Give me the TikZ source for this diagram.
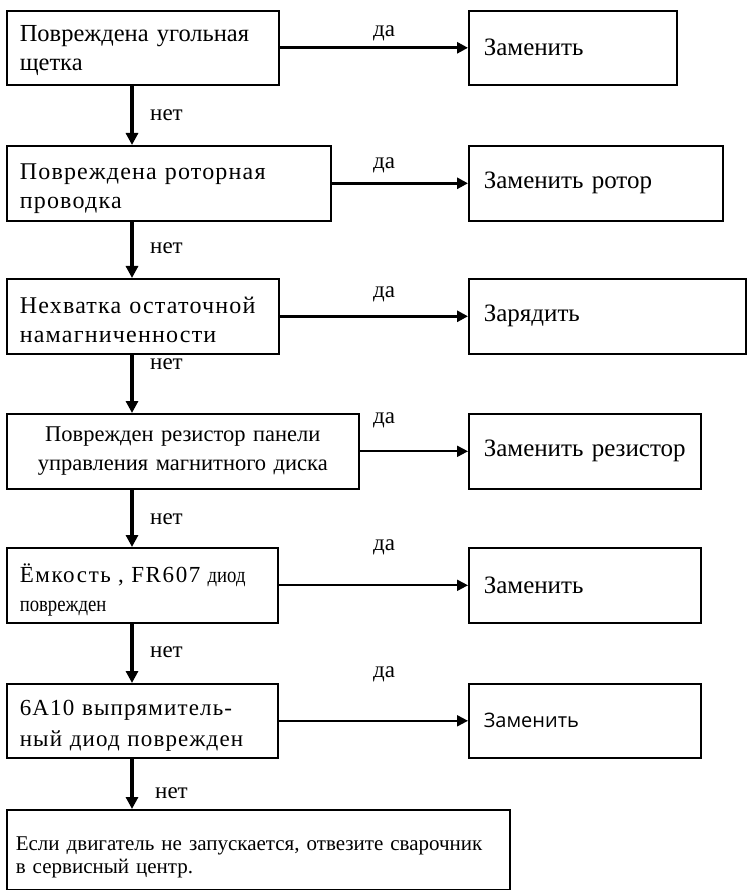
\documentclass[tikz,border=0pt]{standalone}
\usepackage{fontspec}
\setmainfont{Liberation Serif}
\newfontfamily\spaced[LetterSpace=5]{Liberation Serif}
\newfontfamily\wide[LetterSpace=7]{Liberation Serif}
\newfontfamily\narrow[FakeStretch=0.85]{Liberation Serif}
\newfontfamily\opensans{Open Sans}
\newcommand\lift[1]{\rule{0pt}{#1pt}}
\usetikzlibrary{arrows.meta}

\begin{document}
\begin{tikzpicture}[x=1pt,y=-1pt,
  box/.style={draw, line width=1.6pt, anchor=north west, inner xsep=13pt,
    inner ysep=0pt, align=left, font=\fontsize{24}{29}\selectfont},
  fix/.style={box, inner xsep=15pt, font=\fontsize{25}{29}\selectfont},
  lbl/.style={font=\fontsize{23}{26}\selectfont, inner sep=0pt},
  yes/.style={line width=3pt, -{Triangle[length=11pt,width=11pt]}},
  yesthin/.style={line width=2pt, -{Triangle[length=11pt,width=11pt]}},
  no/.style={line width=3.5pt, -{Triangle[length=12pt,width=12pt]}}]
  \useasboundingbox (0,0) rectangle (746,890);

  % questions
  \node[box, minimum width=272, minimum height=74, text width=246,
    font=\fontsize{24.5}{29}\selectfont] (q1) at (6,10)
    {\lift{22}Повреждена угольная\\щетка};
  \node[box, minimum width=324, minimum height=75, text width=298] (q2) at (6,145)
    {\spaced\lift{26}Повреждена роторная\\проводка};
  \node[box, minimum width=272, minimum height=75, text width=246] (q3) at (6,278)
    {\spaced\lift{24}Нехватка остаточной\\намагниченности};
  \node[box, minimum width=352, minimum height=75, text width=326, align=center,
    font=\fontsize{22.5}{29}\selectfont] (q4) at (6,413)
    {Поврежден резистор панели\\управления магнитного диска};
  \node[box, minimum width=271, minimum height=75, text width=245,
    font=\fontsize{22}{29}\selectfont] (q5) at (6,547)
    {\lift{29}{\wide\fontsize{23}{29}\selectfont Ёмкость , FR607} {\narrow диод}\\{\narrow поврежден}};
  \node[box, minimum width=271, minimum height=74, text width=245,
    font=\fontsize{23}{31}\selectfont] (q6) at (6,683)
    {\spaced\lift{25}6A10 выпрямитель-\\ный диод поврежден};
  \node[box, minimum width=503, minimum height=80, text width=485, inner xsep=9pt,
    font=\fontsize{21}{23}\selectfont] (q7) at (6,809)
    {\lift{28}Если двигатель не запускается, отвезите сварочник\\в сервисный центр.};

  % actions
  \node[fix, minimum width=208, minimum height=74, text width=178] (a1) at (468,10) {Заменить};
  \node[fix, minimum width=254, minimum height=75, text width=224] (a2) at (468,145) {Заменить ротор};
  \node[fix, minimum width=277, minimum height=75, text width=247] (a3) at (468,278) {Зарядить};
  \node[fix, minimum width=232, minimum height=75, text width=202] (a4) at (468,413) {Заменить резистор};
  \node[fix, minimum width=232, minimum height=75, text width=202] (a5) at (468,547) {Заменить};
  \node[fix, minimum width=232, minimum height=74, text width=202,
    font=\opensans\fontsize{20}{26}\selectfont] (a6) at (468,683) {Заменить};

  % yes
  \draw[yes] (q1.east) -- (a1.west);
  \draw[yes] (q2.east) -- (a2.west);
  \draw[yes] (q3.east) -- (a3.west);
  \draw[yesthin] (q4.east) -- (a4.west);
  \draw[yesthin] (q5.east) -- (a5.west);
  \draw[yesthin] (q6.east) -- (a6.west);
  \node[lbl] (y1) at (384,33) {да};
  \node[lbl] (y2) at (384,165) {да};
  \node[lbl] (y3) at (384,294) {да};
  \node[lbl] (y4) at (384,420) {да};
  \node[lbl] (y5) at (384,547) {да};
  \node[lbl] (y6) at (384,674) {да};

  % no
  \coordinate (v) at (132,0);
  \draw[no] (q1.south -| v) -- (q2.north -| v);
  \draw[no] (q2.south -| v) -- (q3.north -| v);
  \draw[no] (q3.south -| v) -- (q4.north -| v);
  \draw[no] (q4.south -| v) -- (q5.north -| v);
  \draw[no] (q5.south -| v) -- (q6.north -| v);
  \draw[no] (q6.south -| v) -- (q7.north -| v);
  \node[lbl, anchor=west] (n1) at (150,115) {нет};
  \node[lbl, anchor=west] (n2) at (150,248) {нет};
  \node[lbl, anchor=west] (n3) at (150,364) {нет};
  \node[lbl, anchor=west] (n4) at (150,519) {нет};
  \node[lbl, anchor=west] (n5) at (150,652) {нет};
  \node[lbl, anchor=west] (n6) at (155,793) {нет};
\end{tikzpicture}
\end{document}
